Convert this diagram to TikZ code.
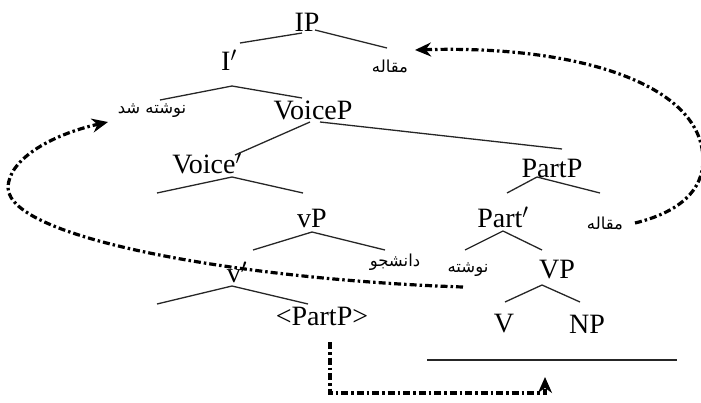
\documentclass[tikz,border=0pt]{standalone}
\usepackage{fontspec}
\setmainfont{Liberation Serif}
\newfontfamily\farsi[Script=Arabic]{DejaVu Sans}
\TeXXeTstate=1
\usetikzlibrary{positioning,arrows.meta,calc}
\tikzstyle{cat}=[inner sep=0pt, font=\fontsize{28}{30}\selectfont]
\tikzstyle{fa}=[inner sep=0pt, font=\farsi\fontsize{16.5}{18}\selectfont]
\tikzstyle{branch}=[-, line width=1.3pt, black!85]
\tikzstyle{move}=[-{Stealth[length=16pt,width=14pt]}, line width=3.2pt,
 dash pattern=on 7pt off 3pt on 2.5pt off 3pt]
\begin{document}
\begin{tikzpicture}[x=1pt,y=-1pt]
\useasboundingbox (0,0) rectangle (701,402);

	\node (ip) [cat] at (307,22) {IP};
	\node (ibar) [cat] at (229,60) {I$'$};
	\node (maqa) [fa] at (390,66) {\beginR مقاله\endR};
	\node (nvsd) [fa] at (152,111) {\beginR نوشته شد\endR};
	\node (voicep) [cat] at (313,110) {VoiceP};
	\node (voiceb) [cat] at (207,163) {Voice$'$};
	\node (partp) [cat] at (552,168) {PartP};
	\node (lvp) [cat] at (312,218) {vP};
	\node (partb) [cat] at (503,217) {Part$'$};
	\node (maqb) [fa] at (605,223) {\beginR مقاله\endR};
	\node (vbar) [cat] at (237,272) {v$'$};
	\node (dnsj) [fa] at (395,262) {\beginR دانشجو\endR};
	\node (nvs) [fa] at (468,270) {\beginR نوشته\endR};
	\node (bigvp) [cat] at (557,270) {VP};
	\node (partpt) [cat] at (322,316) {<PartP>};
	\node (verb) [cat] at (504,324) {V};
	\node (np) [cat] at (587,324) {NP};
%  empty leaves
	\coordinate (vbleft) at (157,193);
	\coordinate (vleft) at (157,304);
	\coordinate (hleft) at (427,360);
	\coordinate (hright) at (677,360);
	\coordinate (gaptip) at (545,377);

   \draw[branch] ($(ip)+(-5,11)$) to ($(ibar)+(11,-17)$);
   \draw[branch] ($(ip)+(8,8)$) to ($(maqa)+(-3,-18)$);
   \draw[branch] ($(ibar)+(3,26)$) to ($(nvsd)+(8,-11)$);
   \draw[branch] ($(ibar)+(3,26)$) to ($(voicep)+(-11,-12)$);
   \draw[branch] ($(voicep)+(-3,12)$) to ($(voiceb)+(28,-8)$);
   \draw[branch] ($(voicep)+(7,12)$) to ($(partp)+(10,-19)$);
   \draw[branch] ($(voiceb)+(25,14)$) to (vbleft);
   \draw[branch] ($(voiceb)+(25,14)$) to ($(lvp)+(-9,-25)$);
   \draw[branch] ($(lvp)+(0,14)$) to ($(vbar)+(16,-22)$);
   \draw[branch] ($(lvp)+(0,14)$) to ($(dnsj)+(-10,-12)$);
   \draw[branch] ($(vbar)+(-5,14)$) to (vleft);
   \draw[branch] ($(vbar)+(-5,14)$) to ($(partpt)+(-14,-12)$);
   \draw[branch] ($(partp)+(-15,9)$) to ($(partb)+(4,-24)$);
   \draw[branch] ($(partp)+(-15,9)$) to ($(maqb)+(-5,-30)$);
   \draw[branch] ($(partb)+(0,14)$) to ($(nvs)+(-3,-20)$);
   \draw[branch] ($(partb)+(0,14)$) to ($(bigvp)+(-15,-20)$);
   \draw[branch] ($(bigvp)+(-15,15)$) to ($(verb)+(1,-22)$);
   \draw[branch] ($(bigvp)+(-15,15)$) to ($(np)+(-7,-22)$);
   \draw[branch] (hleft) -- (hright);
%movement
   \draw[move] ($(nvs)+(-5,17)$) .. controls (250,280) and (10,240) .. (8,188)
      .. controls (8,160) and (50,135) .. ($(nvsd)+(-44,11)$);
   \draw[move] ($(maqb)+(30,0)$) .. controls (680,212) and (703,190) .. (703,160)
      .. controls (703,85) and (580,45) .. ($(maqa)+(25,-16)$);
   \draw[move] ($(partpt)+(8,26)$) -- ++(0,51) -| (gaptip);

\end{tikzpicture}
\end{document}
